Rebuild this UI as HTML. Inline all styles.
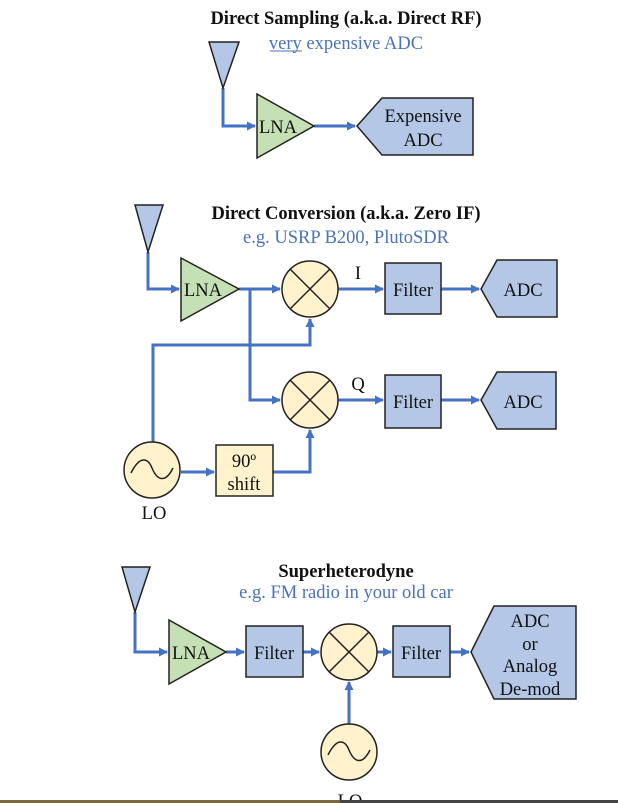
<!DOCTYPE html>
<html><head><meta charset="utf-8"><style>
html,body{margin:0;padding:0;background:#fff;}
svg{display:block;}
text{font-family:"Liberation Serif",serif;}
</style></head><body>
<svg width="618" height="803" viewBox="0 0 618 803" xmlns="http://www.w3.org/2000/svg">
<defs>
<marker id="a" markerWidth="9" markerHeight="9" refX="8" refY="4.5" orient="auto" markerUnits="userSpaceOnUse">
<path d="M0,0 L9,4.5 L0,9 z" fill="#4472c4"/></marker>
</defs>
<g fill="none" stroke="#4472c4" stroke-width="3">
<path d="M223,88 V126 H255" marker-end="url(#a)"/>
<path d="M314,126 H355" marker-end="url(#a)"/>
<path d="M148,252 V289 H179" marker-end="url(#a)"/>
<path d="M239,289 H280" marker-end="url(#a)"/>
<path d="M250,289 V400 H280" marker-end="url(#a)"/>
<path d="M338,289 H383" marker-end="url(#a)"/>
<path d="M338,400 H383" marker-end="url(#a)"/>
<path d="M441,289 H479" marker-end="url(#a)"/>
<path d="M441,400 H479" marker-end="url(#a)"/>
<path d="M153,442 V345 H310 V319" marker-end="url(#a)"/>
<path d="M181,472 H214" marker-end="url(#a)"/>
<path d="M273,472 H310 V430" marker-end="url(#a)"/>
<path d="M135,612 V652 H167" marker-end="url(#a)"/>
<path d="M226,652 H244" marker-end="url(#a)"/>
<path d="M303,652 H319" marker-end="url(#a)"/>
<path d="M377,652 H391" marker-end="url(#a)"/>
<path d="M450,652 H469" marker-end="url(#a)"/>
<path d="M349,724 V682" marker-end="url(#a)"/>
</g>
<g stroke="#222" stroke-width="1.5">
<polygon points="209,42 239,42 223,88" fill="#b4c7e7"/>
<polygon points="135,205 163,205 148,252" fill="#b4c7e7"/>
<polygon points="122,567 150,567 135,612" fill="#b4c7e7"/>
<polygon points="257,94 314,126 257,158" fill="#c5e0b4"/>
<polygon points="181,258 239,289 181,321" fill="#c5e0b4"/>
<polygon points="169,620 226,652 169,684" fill="#c5e0b4"/>
<polygon points="357,126 382,98 473,98 473,155 382,155" fill="#b4c7e7"/>
<polygon points="481,289 497,260 557,260 557,317 497,317" fill="#b4c7e7"/>
<polygon points="481,400 497,372 556,372 556,429 497,429" fill="#b4c7e7"/>
<polygon points="471,652 494,606 576,606 576,699 494,699" fill="#b4c7e7"/>
<rect x="385" y="263" width="56" height="51" fill="#b4c7e7"/>
<rect x="385" y="375" width="56" height="53" fill="#b4c7e7"/>
<rect x="246" y="626" width="57" height="51" fill="#b4c7e7"/>
<rect x="393" y="626" width="57" height="51" fill="#b4c7e7"/>
<rect x="216" y="445" width="57" height="51" fill="#fff2cc"/>
<circle cx="310" cy="289" r="28" fill="#fff2cc"/>
<path d="M290,269 L330,309 M330,269 L290,309" fill="none"/>
<circle cx="310" cy="400" r="28" fill="#fff2cc"/>
<path d="M290,380 L330,420 M330,380 L290,420" fill="none"/>
<circle cx="349" cy="652" r="28" fill="#fff2cc"/>
<path d="M329,632 L369,672 M369,632 L329,672" fill="none"/>
<circle cx="152" cy="470" r="28" fill="#fff2cc"/>
<path d="M131,473 C140,455 148,458 152,468 C157,480 165,484 173,468" fill="none"/>
<circle cx="349" cy="752" r="28" fill="#fff2cc"/>
<path d="M328,755 C337,737 345,740 349,750 C354,762 362,766 370,750" fill="none"/>
</g>
<g font-size="18.5" fill="#111" text-anchor="middle">
<text x="346" y="24" font-weight="bold">Direct Sampling (a.k.a. Direct RF)</text>
<text x="346" y="49" fill="#4a73b9">very expensive ADC</text>
<line x1="270" y1="51" x2="302" y2="51" stroke="#4a73b9" stroke-width="1"/>
<text x="278" y="133">LNA</text>
<text x="423" y="122">Expensive</text>
<text x="423" y="146">ADC</text>

<text x="346" y="219" font-weight="bold">Direct Conversion (a.k.a. Zero IF)</text>
<text x="346" y="243" fill="#4a73b9">e.g. USRP B200, PlutoSDR</text>
<text x="203" y="296">LNA</text>
<text x="358" y="279">I</text>
<text x="358" y="390">Q</text>
<text x="413" y="296">Filter</text>
<text x="413" y="408">Filter</text>
<text x="523" y="296">ADC</text>
<text x="523" y="408">ADC</text>
<text x="244" y="467">90º</text>
<text x="244" y="490">shift</text>
<text x="154" y="519">LO</text>

<text x="346" y="577" font-weight="bold">Superheterodyne</text>
<text x="346" y="598" fill="#4a73b9">e.g. FM radio in your old car</text>
<text x="191" y="659">LNA</text>
<text x="274" y="659">Filter</text>
<text x="421" y="659">Filter</text>
<text x="530" y="627">ADC</text>
<text x="530" y="650">or</text>
<text x="530" y="672">Analog</text>
<text x="530" y="695">De-mod</text>
<text x="350" y="807">LO</text>
</g>
<rect x="0" y="800" width="340" height="3" fill="#7a6a3a"/>
<rect x="340" y="800" width="278" height="3" fill="#444"/>
</svg>
</body></html>
